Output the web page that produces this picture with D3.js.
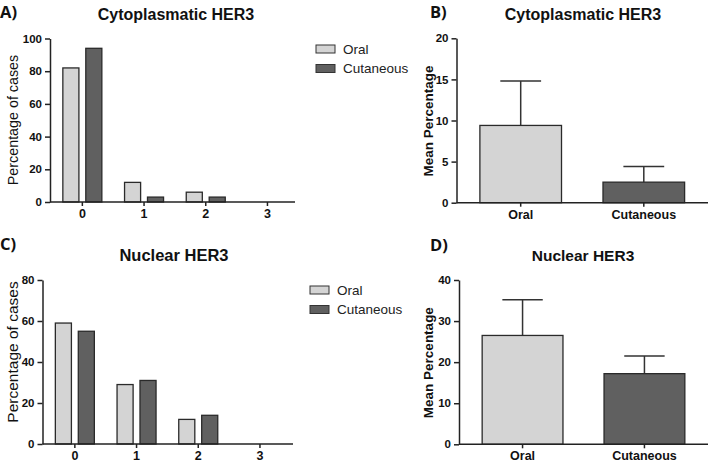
<!DOCTYPE html>
<html>
<head>
<meta charset="utf-8">
<script src="https://cdn.jsdelivr.net/npm/d3@7"></script>
<style>
  body { margin: 0; background: #fff; }
  svg { display: block; font-family: Arial, "Liberation Sans", sans-serif; }
  .axis path, .axis line { stroke: #222; stroke-width: 1.5px; }
  .axis text { font-weight: bold; font-size: 11.5px; fill: #111; }
  .axis.x text { font-size: 12.5px; }
</style>
</head>
<body>
<svg id="chart" width="709" height="463"></svg>
<script>
// groups and series
const scores = ["0", "1", "2", "3"];
const series = ["Oral", "Cutaneous"];
const colors = { "Oral": "#d4d4d4", "Cutaneous": "#606060" };

// A) cytoplasmatic HER3, percentage of cases per score
const cytoOral = [82, 12, 6, 0];
const cytoCut = [94, 3, 3, 0];
const cytoTicks = [0, 20, 40, 60, 80, 100];

// C) nuclear HER3
const nucOral = [59, 29, 12, 0];
const nucCut = [55, 31, 14, 0];
const nucTicks = [0, 20, 40, 60, 80];

// B) / D) mean percentage and upper error
const cytoMean = [9.4, 2.5];
const cytoErr = [14.8, 4.4];
const cytoMeanTicks = [0, 5, 10, 15, 20];
const nucMean = [26.5, 17.2];
const nucErr = [35.2, 21.5];
const nucMeanTicks = [0, 10, 20, 30, 40];

const svg = d3.select("#chart");

function label(txt, x, y, size, weight) {
    svg.append("text").attr("x", x).attr("y", y)
        .attr("text-anchor", "middle")
        .attr("font-size", size).attr("font-weight", weight || "bold")
        .attr("fill", "#111").text(txt);
}

function yTitle(txt, x, y, weight, size) {
    svg.append("text")
        .attr("transform", `translate(${x},${y}) rotate(-90)`)
        .attr("text-anchor", "middle")
        .attr("dominant-baseline", "central")
        .attr("font-size", size).attr("font-weight", weight)
        .attr("fill", "#111").text(txt);
}

function groupedPanel(p) {
    const g = svg.append("g");
    const y = d3.scaleLinear().domain([0, p.ticks[p.ticks.length - 1]]).range([p.bottom, p.top]);
    const x = d3.scaleBand().domain(scores).range([p.left + 1.5, p.left + 1.5 + 61.7 * 4]);
    const xs = d3.scaleBand().domain(series).range([-19.5, 19.5]).paddingInner(0.3);

    const rows = [];
    scores.forEach((s, i) => {
        rows.push({ s: s, k: "Oral", v: p.oral[i] });
        rows.push({ s: s, k: "Cutaneous", v: p.cut[i] });
    });

    g.selectAll(".bar")
        .data(rows.filter(d => d.v > 0))
        .join("rect")
        .attr("class", "bar")
        .attr("x", d => x(d.s) + x.bandwidth() / 2 + xs(d.k))
        .attr("width", xs.bandwidth())
        .attr("y", d => y(d.v))
        .attr("height", d => y(0) - y(d.v))
        .attr("fill", d => colors[d.k])
        .attr("stroke", "#2a2a2a").attr("stroke-width", 1.3);

    g.append("g").attr("class", "axis")
        .attr("transform", `translate(${p.left},0)`)
        .call(d3.axisLeft(y).tickValues(p.ticks).tickSize(5).tickSizeOuter(0));

    const xa = g.append("g").attr("class", "axis x")
        .attr("transform", `translate(0,${p.bottom})`)
        .call(d3.axisBottom(x).tickSize(4).tickSizeOuter(0).tickPadding(3));
    xa.select(".domain").attr("d", `M${p.left},0H${p.right}`);

    yTitle("Percentage of cases", p.titleX, p.titleY, "normal", p.titleSize);

    // legend
    series.forEach((k, i) => {
        g.append("rect").attr("x", p.legX).attr("y", p.legY + i * 19.5)
            .attr("width", 19).attr("height", 8)
            .attr("fill", colors[k]).attr("stroke", "#333").attr("stroke-width", 1);
        g.append("text").attr("x", p.legX + 27).attr("y", p.legY + i * 19.5 + 8.5)
            .attr("font-size", 13.5).attr("fill", "#222").text(k);
    });
}

function meanPanel(p) {
    const g = svg.append("g");
    const y = d3.scaleLinear().domain([0, p.ticks[p.ticks.length - 1]]).range([p.bottom, p.top]);
    const x = d3.scaleBand().domain(series).range([p.left, 708]).paddingInner(0.337).paddingOuter(0.19);

    const rows = series.map((k, i) => ({ k: k, v: p.mean[i], e: p.err[i] }));

    g.selectAll(".err")
        .data(rows)
        .join("path")
        .attr("class", "err")
        .attr("d", d => {
            const cx = x(d.k) + x.bandwidth() / 2, hw = x.bandwidth() / 4;
            return `M${cx},${y(d.v)}V${y(d.e)}M${cx - hw},${y(d.e)}H${cx + hw}`;
        })
        .attr("stroke", "#333").attr("stroke-width", 1.5).attr("fill", "none");

    g.selectAll(".bar")
        .data(rows)
        .join("rect")
        .attr("class", "bar")
        .attr("x", d => x(d.k))
        .attr("width", x.bandwidth())
        .attr("y", d => y(d.v))
        .attr("height", d => y(0) - y(d.v))
        .attr("fill", d => colors[d.k])
        .attr("stroke", "#2a2a2a").attr("stroke-width", 1.3);

    g.append("g").attr("class", "axis")
        .attr("transform", `translate(${p.left},0)`)
        .call(d3.axisLeft(y).tickValues(p.ticks).tickSize(5).tickSizeOuter(0));

    g.append("g").attr("class", "axis x")
        .attr("transform", `translate(0,${p.bottom})`)
        .call(d3.axisBottom(x).tickSize(4).tickSizeOuter(0).tickPadding(3))
        .select(".domain").attr("d", `M${p.left},0H708`);

    yTitle("Mean Percentage", 428, (p.top + p.bottom) / 2 + 0.5, "bold", 13.5);
}

groupedPanel({ oral: cytoOral, cut: cytoCut, ticks: cytoTicks, left: 50, right: 295,
    top: 38.5, bottom: 202, legX: 316, legY: 45, titleX: 13, titleY: 120, titleSize: 14.3 });
groupedPanel({ oral: nucOral, cut: nucCut, ticks: nucTicks, left: 42.5, right: 293,
    top: 280, bottom: 444, legX: 310, legY: 286, titleX: 12, titleY: 352, titleSize: 15.5 });
meanPanel({ mean: cytoMean, err: cytoErr, ticks: cytoMeanTicks, left: 456.5, top: 38.3, bottom: 202.7 });
meanPanel({ mean: nucMean, err: nucErr, ticks: nucMeanTicks, left: 459, top: 280, bottom: 444.3 });

// panel letters and titles
const letterFont = "'Open Sans', Arial, sans-serif";
[["A)", 0, 17.5], ["B)", 430, 17.5], ["C)", 0, 250], ["D)", 430, 250.5]].forEach(d => {
    svg.append("text").attr("x", d[1]).attr("y", d[2])
        .attr("font-family", letterFont).attr("font-size", 16.5).attr("font-weight", "bold")
        .attr("fill", "#111").text(d[0]);
});
label("Cytoplasmatic HER3", 176, 20, 16);
label("Cytoplasmatic HER3", 583, 20, 16);
label("Nuclear HER3", 174, 261, 16.5);
label("Nuclear HER3", 583, 261, 15.5);
</script>
</body>
</html>
